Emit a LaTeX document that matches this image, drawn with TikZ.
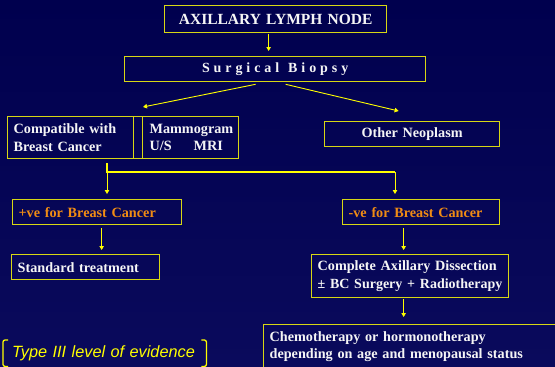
\documentclass[tikz,border=0pt]{standalone}
\usepackage{fontspec}
\setmainfont{Liberation Serif}[WordSpace=1.8]
\setsansfont{Liberation Sans}
\newfontfamily\spacedfont{Liberation Serif}[LetterSpace=28]
\newfontfamily\plainfont{Liberation Serif}
\usetikzlibrary{arrows.meta,calc}
\definecolor{bgtop}{RGB}{0,0,78}
\definecolor{bgbot}{RGB}{10,10,92}
\definecolor{boxc}{RGB}{215,215,20}
\definecolor{arrc}{RGB}{255,255,0}
\definecolor{txtc}{RGB}{245,245,245}
\definecolor{orc}{RGB}{240,140,20}
\begin{document}
\begin{tikzpicture}[x=1pt,y=-1pt,
  box/.style={draw=boxc, line width=1.3pt, anchor=north west, inner xsep=6pt, inner ysep=0pt,
    text=txtc, font=\bfseries\fontsize{14.2}{17.5}\selectfont, align=left},
  arr/.style={draw=arrc, line width=0.9pt, -{Triangle[length=4pt,width=4.5pt]}},
  lin/.style={draw=arrc, line width=1.3pt},
  brk/.style={draw=arrc, line width=1.3pt, rounded corners=2pt}]
\useasboundingbox (0,0) rectangle (555,367);
\clip (0,0) rectangle (555,367);
\shade[top color=bgtop, bottom color=bgbot] (0,0) rectangle (555,367);
% boxes
\node[box, align=center, text width=210pt, minimum width=222pt, minimum height=27pt,
  font=\bfseries\fontsize{15.5}{18}\selectfont] (axn) at (164,5) {AXILLARY LYMPH NODE};
\node[box, align=center, text width=289pt, minimum width=301pt, minimum height=25pt,
  font=\bfseries\spacedfont\fontsize{14}{16}\selectfont] (sb) at (124,56) {Surgical\hspace{9pt}Biopsy};
\node[box, text width=114pt, minimum width=126pt, minimum height=42pt] (comp) at (7,116)
  {Compatible with\\Breast Cancer};
\node[box, inner xsep=0pt, minimum width=9pt, minimum height=42pt] (nar) at (133,116) {};
\node[box, text width=82pt, inner xsep=7pt, minimum width=96pt, minimum height=42pt] (mam) at (142,116)
  {Mammogram\\U/S\hspace{22pt}MRI};
\node[box, align=center, text width=163pt, minimum width=175pt, minimum height=25pt] (oth) at (324,121)
  {Other Neoplasm};
\node[box, text=orc, text width=157pt, minimum width=169pt, minimum height=25pt] (pos) at (12,199)
  {+ve for Breast Cancer};
\node[box, text=orc, text width=145pt, minimum width=157pt, minimum height=25pt] (neg) at (342,199)
  {-ve for Breast Cancer};
\node[box, text width=136pt, minimum width=148pt, minimum height=25pt] (std) at (11,254)
  {Standard treatment};
\node[box, text width=185pt, minimum width=197pt, minimum height=43pt] (cad) at (311,254)
  {Complete Axillary Dissection\\\mbox{\plainfont\bfseries\fontsize{14}{17.5}\selectfont ± BC Surgery + Radiotherapy}};
\node[box, text width=288pt, minimum width=300pt, minimum height=44pt] (che) at (263,324)
  {Chemotherapy or hormonotherapy\\depending on age and menopausal status};
% connectors
\draw[arr, shorten >=5pt] ([xshift=-7pt,yshift=-1pt]axn.south) -- ([xshift=-6.5pt]sb.north);
\draw[arr] ([xshift=-19.5pt,yshift=-2pt]sb.south) -- ([xshift=1pt,yshift=9pt]mam.north west);
\draw[arr] ([xshift=10.5pt,yshift=-2pt]sb.south) -- ([xshift=-13.5pt,yshift=10pt]oth.north);
\coordinate (jl) at (107,172);
\coordinate (jr) at (395,172);
\draw[lin] ([yshift=-4pt]comp.south -| jl) -- (jl) -- (jr);
\draw[arr, shorten >=5pt] (jl) -- (jl |- pos.north);
\draw[arr, shorten >=5pt] (jr) -- (jr |- neg.north);
\draw[arr, shorten >=4pt] ([xshift=4.5pt,yshift=-3pt]pos.south) -- ([xshift=16pt]std.north);
\draw[arr, shorten >=4pt] ([xshift=-17.5pt,yshift=-3pt]neg.south) -- ([xshift=-6.5pt]cad.north);
\draw[arr] ([xshift=-6.5pt,yshift=-1pt]cad.south) -- ($(cad.south |- che.north)+(-6.5,-7)$);
% evidence label
\node[anchor=north west, minimum width=203pt, minimum height=26pt, inner xsep=9pt, inner ysep=0pt,
  text width=185pt, align=left, text=arrc, font=\sffamily\itshape\fontsize{16.3}{18}\selectfont] (typ) at (3,340)
  {Type III level of evidence};
\draw[brk] ([xshift=5pt]typ.north west) -- (typ.north west) -- (typ.south west) -- ([xshift=5pt]typ.south west);
\draw[brk] ([xshift=-5pt]typ.north east) -- (typ.north east) -- (typ.south east) -- ([xshift=-5pt]typ.south east);
\end{tikzpicture}
\end{document}
